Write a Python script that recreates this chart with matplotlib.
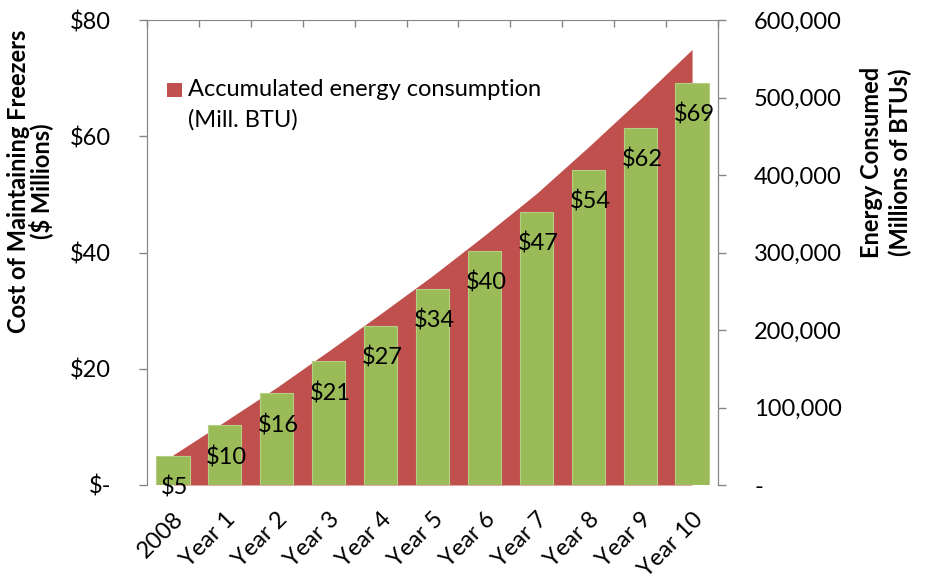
import matplotlib
matplotlib.use("Agg")
import matplotlib.pyplot as plt
from matplotlib.patches import Rectangle
from matplotlib.ticker import FuncFormatter

categories = ["2008", "Year 1", "Year 2", "Year 3", "Year 4", "Year 5",
              "Year 6", "Year 7", "Year 8", "Year 9", "Year 10"]
cost_millions = [5.0, 10.3, 15.8, 21.3, 27.4, 33.8, 40.3, 47.0, 54.2, 61.5, 69.2]
energy_accum = [38700, 82000, 126000, 173000, 221000, 270000,
                322000, 376000, 436000, 498000, 562000]
cost_ticks = [0, 20, 40, 60, 80]
energy_ticks = [0, 100000, 200000, 300000, 400000, 500000, 600000]
legend_label = ["Accumulated energy consumption", "(Mill. BTU)"]

FONT = "Lato"
FS = 17
plt.rcParams["font.family"] = [FONT, "DejaVu Sans"]

GREEN = "#9BBB59"
RED = "#C0504D"
GRAY = "#868686"

fig = plt.figure(figsize=(9.28, 5.8), dpi=100)
ax = fig.add_axes([147/928, 1-485/580, (718-147)/928, (485-20)/580])
ax2 = ax.twinx()

x = list(range(len(categories)))

# area on right axis (behind)
ax2.fill_between(x, 0, energy_accum, color=RED, linewidth=0, zorder=1)
ax2.set_ylim(0, 600000)
ax2.set_yticks(energy_ticks)
ax2.yaxis.set_major_formatter(FuncFormatter(lambda v, p: "-" if v == 0 else f"{int(v):,}"))

# bars on left axis (front)
ax.set_zorder(ax2.get_zorder() + 1)
ax.patch.set_visible(False)
bars = ax.bar(x, cost_millions, width=0.64, color=GREEN, edgecolor="#B4CF84", linewidth=0.8, zorder=2)
for xi, v in zip(x, cost_millions):
    ax.annotate(f"${round(v)}", xy=(xi, v), xytext=(2, -32), textcoords="offset pixels",
                ha="center", va="center", fontsize=FS, color="black", zorder=3)

ax.set_ylim(0, 80)
ax.set_xlim(-0.5, len(categories) - 0.5)
ax.set_yticks(cost_ticks)
ax.yaxis.set_major_formatter(FuncFormatter(lambda v, p: "$-" if v == 0 else f"${int(v)}"))

# x tick labels
ax.set_xticks(x)
ax.set_xticklabels(categories, rotation=45, ha="right", rotation_mode="anchor", fontsize=FS)
ax.tick_params(axis="x", length=0, pad=17)

# top boundary ticks via secondary x axis
axt = ax.secondary_xaxis("top")
axt.set_xticks([i + 0.5 for i in range(-1, len(categories))])
axt.set_xticklabels([])
axt.tick_params(axis="x", length=5, width=1, color=GRAY, direction="in")
axt.spines["top"].set_color(GRAY)

for a in (ax, ax2):
    for s in ("top", "bottom"):
        a.spines[s].set_visible(False)
    a.spines["left"].set_color(GRAY)
    a.spines["right"].set_color(GRAY)

ax.tick_params(axis="y", length=6, width=1, color=GRAY, labelsize=FS, pad=20)
ax2.tick_params(axis="y", length=6, width=1, color=GRAY, labelsize=FS, pad=20)

# axis titles
fig.text(30/928, 1-181/580, "Cost of Maintaining Freezers\n($ Millions)", rotation=90,
         ha="center", va="center", multialignment="center", fontsize=FS, fontweight="bold",
         linespacing=0.95)
fig.text(886/928, 1-162/580, "Energy Consumed\n(Millions of BTUs)", rotation=90,
         ha="center", va="center", multialignment="center", fontsize=FS, fontweight="bold",
         linespacing=1.3)

# legend (drawn manually so the key aligns with the first line)
fig.patches.append(Rectangle((167/928, 1-97/580), 15/928, 14/580, transform=fig.transFigure,
                             facecolor=RED, edgecolor="none", zorder=5))
fig.text(188/928, 1-89/580, legend_label[0], ha="left", va="center", fontsize=FS, zorder=5)
fig.text(188/928, 1-120/580, legend_label[1], ha="left", va="center", fontsize=FS, zorder=5)

fig.savefig("out.png", dpi=100)
